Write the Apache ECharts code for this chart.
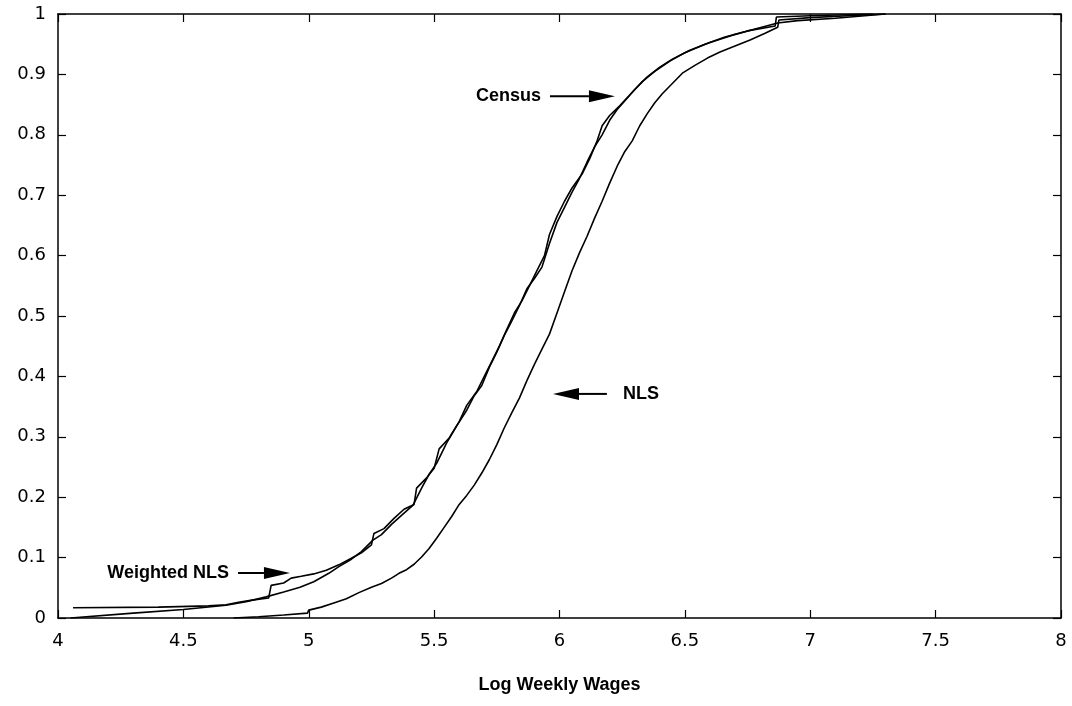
<!DOCTYPE html>
<html>
<head>
<meta charset="utf-8">
<script src="https://cdn.jsdelivr.net/npm/echarts@6/dist/echarts.min.js"></script>
<style>
	html, body { margin: 0; padding: 0; background: #fff; }
	#main { width: 1072px; height: 706px; }
</style>
</head>
<body>
<div id="main"></div>
<script>
// tick labels
var xTicks = [4, 4.5, 5, 5.5, 6, 6.5, 7, 7.5, 8];
var yTicks = [0, 0.1, 0.2, 0.3, 0.4, 0.5, 0.6, 0.7, 0.8, 0.9, 1];

// NLS (right curve)
var nlsX = [4.70, 4.80, 4.90, 4.995, 5.00, 5.05, 5.10, 5.15, 5.20, 5.25, 5.29, 5.33, 5.36, 5.39, 5.42, 5.45, 5.48, 5.51, 5.54, 5.57,
	5.60, 5.63, 5.66, 5.69, 5.72, 5.75, 5.78, 5.81, 5.84, 5.87, 5.90, 5.93, 5.96, 5.99, 6.02, 6.05, 6.08, 6.11, 6.14, 6.17,
	6.20, 6.23, 6.26, 6.29, 6.32, 6.35, 6.38, 6.41, 6.45, 6.49, 6.54, 6.59, 6.64, 6.70, 6.76, 6.82, 6.87, 6.875, 7.00, 7.15, 7.30];
var nlsY = [0.000, 0.002, 0.005, 0.008, 0.013, 0.018, 0.025, 0.032, 0.042, 0.051, 0.057, 0.066, 0.074, 0.080, 0.089, 0.101, 0.115, 0.132, 0.150, 0.168,
	0.188, 0.203, 0.220, 0.240, 0.262, 0.287, 0.315, 0.340, 0.364, 0.393, 0.420, 0.445, 0.470, 0.505, 0.540, 0.575, 0.605, 0.632, 0.662, 0.690,
	0.720, 0.748, 0.772, 0.790, 0.815, 0.835, 0.853, 0.868, 0.885, 0.902, 0.915, 0.927, 0.937, 0.947, 0.957, 0.968, 0.978, 0.990, 0.994, 0.997, 1.000];

// Census
var censusX = [4.05, 4.30, 4.50, 4.67, 4.75, 4.83, 4.90, 4.965, 5.02, 5.08, 5.12, 5.165, 5.21, 5.256, 5.29, 5.33, 5.37, 5.416, 5.45, 5.48,
	5.51, 5.55, 5.59, 5.63, 5.66, 5.69, 5.72, 5.75, 5.78, 5.81, 5.84, 5.87, 5.90, 5.93, 5.96, 5.99, 6.02, 6.05, 6.08, 6.11,
	6.14, 6.17, 6.20, 6.23, 6.26, 6.30, 6.35, 6.40, 6.45, 6.52, 6.60, 6.69, 6.78, 6.87, 6.95, 7.10, 7.30];
var censusY = [0.000, 0.008, 0.014, 0.021, 0.027, 0.035, 0.043, 0.051, 0.060, 0.074, 0.085, 0.096, 0.110, 0.129, 0.138, 0.155, 0.170, 0.187, 0.215, 0.238,
	0.256, 0.290, 0.318, 0.344, 0.368, 0.385, 0.415, 0.440, 0.468, 0.492, 0.517, 0.545, 0.562, 0.581, 0.620, 0.655, 0.680, 0.705, 0.728, 0.755,
	0.780, 0.800, 0.824, 0.842, 0.856, 0.875, 0.896, 0.912, 0.925, 0.940, 0.953, 0.965, 0.975, 0.985, 0.989, 0.993, 1.000];

// Weighted NLS
var wnlsX = [4.06, 4.40, 4.60, 4.67, 4.72, 4.78, 4.84, 4.85, 4.90, 4.93, 4.97, 5.02, 5.07, 5.12, 5.17, 5.21, 5.25, 5.26, 5.30, 5.34,
	5.38, 5.42, 5.43, 5.47, 5.50, 5.52, 5.56, 5.60, 5.63, 5.67, 5.70, 5.73, 5.76, 5.79, 5.82, 5.85, 5.88, 5.91, 5.94, 5.96,
	5.99, 6.02, 6.05, 6.09, 6.12, 6.15, 6.17, 6.20, 6.24, 6.28, 6.33, 6.38, 6.44, 6.50, 6.58, 6.66, 6.75, 6.86, 6.865, 7.00, 7.25];
var wnlsY = [0.017, 0.018, 0.020, 0.022, 0.026, 0.030, 0.033, 0.054, 0.058, 0.066, 0.069, 0.073, 0.079, 0.088, 0.099, 0.108, 0.121, 0.140, 0.148, 0.165,
	0.180, 0.188, 0.215, 0.232, 0.248, 0.280, 0.298, 0.325, 0.352, 0.375, 0.400, 0.425, 0.450, 0.478, 0.505, 0.525, 0.550, 0.575, 0.600, 0.635,
	0.665, 0.690, 0.712, 0.735, 0.760, 0.790, 0.815, 0.832, 0.848, 0.866, 0.888, 0.905, 0.922, 0.936, 0.950, 0.962, 0.972, 0.980, 0.995, 0.997, 1.000];

// annotations: text, text anchor [x, y], arrow from, arrow to
var notes = [
	{ text: 'Census', align: 'right', at: [5.926, 0.864], from: [5.962, 0.864], to: [6.221, 0.864] },
	{ text: 'NLS', align: 'left', at: [6.253, 0.371], from: [6.189, 0.371], to: [5.974, 0.371] },
	{ text: 'Weighted NLS', align: 'right', at: [4.682, 0.0745], from: [4.718, 0.0745], to: [4.925, 0.0745] }
];

function pairs(xs, ys) {
	var out = [];
	for(var i = 0; i < xs.length; i++) {
		out.push([xs[i], ys[i]]);
	}
	return out;
}

function makeAxis(pos, lo, hi, step, showLabel, name, margin) {
	return {
		type: 'value',
		position: pos,
		min: lo,
		max: hi,
		interval: step,
		name: name || '',
		nameLocation: 'middle',
		nameGap: 58,
		nameTextStyle: { color: '#000', fontSize: 18, fontWeight: 'bold', fontFamily: 'Liberation Sans' },
		axisLine: { show: true, onZero: false, lineStyle: { color: '#000', width: 1.5 } },
		axisTick: { show: true, inside: true, length: 8, lineStyle: { color: '#000', width: 1.2 } },
		axisLabel: { show: showLabel, margin: margin || 13, color: '#000', fontSize: 18, fontFamily: 'DejaVu Sans' },
		splitLine: { show: false }
	};
}

function lineSeries(name, data) {
	return {
		name: name,
		type: 'line',
		showSymbol: false,
		symbol: 'none',
		data: data,
		lineStyle: { color: '#000', width: 1.6 },
		z: 3
	};
}

var myChart = echarts.init(document.getElementById('main'), null, { renderer: 'canvas' });
var option = {
	animation: false,
	backgroundColor: '#fff',
	grid: { left: 58, right: 11, top: 14, bottom: 88 },
	xAxis: [
		makeAxis('bottom', xTicks[0], xTicks[xTicks.length - 1], 0.5, true, 'Log Weekly Wages', 14),
		makeAxis('top', xTicks[0], xTicks[xTicks.length - 1], 0.5, false)
	],
	yAxis: [
		makeAxis('left', yTicks[0], yTicks[yTicks.length - 1], 0.1, true, '', 12),
		makeAxis('right', yTicks[0], yTicks[yTicks.length - 1], 0.1, false)
	],
	series: [
		lineSeries('NLS', pairs(nlsX, nlsY)),
		lineSeries('Census', pairs(censusX, censusY)),
		lineSeries('Weighted NLS', pairs(wnlsX, wnlsY))
	]
};
myChart.setOption(option);

// arrows and labels, placed through the grid's own scale
var graphics = [];
notes.forEach(function(n) {
	var p = myChart.convertToPixel({ gridIndex: 0 }, n.at);
	var a = myChart.convertToPixel({ gridIndex: 0 }, n.from);
	var b = myChart.convertToPixel({ gridIndex: 0 }, n.to);
	var dir = b[0] > a[0] ? 1 : -1;
	var headLen = 26;
	graphics.push({
		type: 'text',
		x: p[0],
		y: p[1],
		style: { text: n.text, fill: '#000', font: 'bold 18px "Liberation Sans"', textAlign: n.align, textVerticalAlign: 'middle' }
	});
	graphics.push({
		type: 'line',
		shape: { x1: a[0], y1: a[1], x2: b[0] - dir * headLen, y2: b[1] },
		style: { stroke: '#000', lineWidth: 2 }
	});
	graphics.push({
		type: 'polygon',
		shape: { points: [[b[0], b[1]], [b[0] - dir * headLen, b[1] - 6], [b[0] - dir * headLen, b[1] + 6]] },
		style: { fill: '#000' }
	});
});
myChart.setOption({ graphic: graphics });
</script>
</body>
</html>
